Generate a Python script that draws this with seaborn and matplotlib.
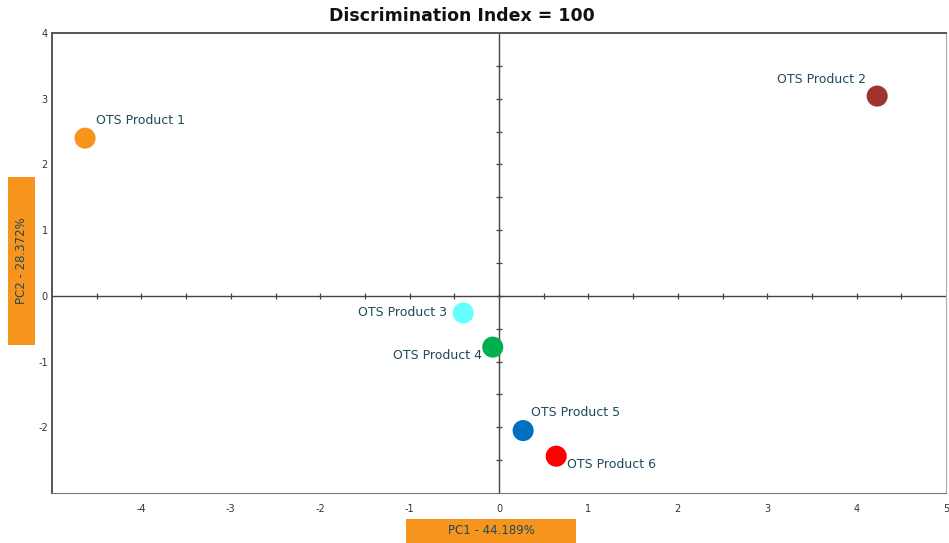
import numpy as np
import pandas as pd
import matplotlib.pyplot as plt
from matplotlib.patches import Rectangle
import seaborn as sns

# PCA scores
products = ['OTS Product 1', 'OTS Product 2', 'OTS Product 3',
            'OTS Product 4', 'OTS Product 5', 'OTS Product 6']
pc1 = [-4.63, 4.23, -0.40, -0.07, 0.27, 0.64]
pc2 = [2.40, 3.04, -0.26, -0.78, -2.05, -2.44]
colors = ['#F7941D', '#9E3330', '#66FFFF', '#00B050', '#0070C0', '#FF0000']

x_label = 'PC1 - 44.189%'
y_label = 'PC2 - 28.372%'
title = 'Discrimination Index = 100'

df = pd.DataFrame({'product': products, 'pc1': pc1, 'pc2': pc2})

sns.set_style('white')
plt.rcParams['font.family'] = ['DejaVu Sans']

fig = plt.figure(figsize=(9.49, 5.43), dpi=100)
W, H = 949, 543
ax = fig.add_axes([52 / W, 1 - 493 / H, (946 - 52) / W, (493 - 33) / H])

ax.set_xlim(-5, 5)
ax.set_ylim(-3, 4)

# zero lines with small ticks every 0.5
ax.axhline(0, color='#444444', lw=1, zorder=1)
ax.axvline(0, color='#444444', lw=1, zorder=1)
steps_x = np.arange(-4.5, 5.0, 0.5)
steps_y = np.arange(-2.5, 4.0, 0.5)
ax.plot(steps_x, np.zeros_like(steps_x), ls='none', marker='|', ms=5,
        mew=0.9, color='#444444', zorder=1)
ax.plot(np.zeros_like(steps_y), steps_y, ls='none', marker='_', ms=5,
        mew=0.9, color='#444444', zorder=1)

sns.scatterplot(data=df, x='pc1', y='pc2', hue='product', palette=colors,
                s=230, edgecolor='none', legend=False, ax=ax, zorder=3)

# label offsets (points) and alignment per product
offsets = [(8, 8, 'left', 'bottom'), (-8, 7, 'right', 'bottom'),
           (-12, 0, 'right', 'center'), (-8, -6, 'right', 'center'),
           (6, 8, 'left', 'bottom'), (8, -6, 'left', 'center')]
for name, x, y, (dx, dy, ha, va) in zip(products, pc1, pc2, offsets):
    ax.annotate(name, (x, y), xytext=(dx, dy), textcoords='offset points',
                ha=ha, va=va, fontsize=9, color='#1E4A5A')

ax.set_xticks(range(-4, 6))
ax.set_yticks(range(-3, 5))
ax.set_xticklabels([str(v) for v in range(-4, 6)])
ax.set_yticklabels(['' if v == -3 else str(v) for v in range(-3, 5)])
ax.tick_params(axis='both', length=0, labelsize=7, colors='#333333', pad=8)
ax.tick_params(axis='y', pad=3)
ax.set_xlabel('')
ax.set_ylabel('')

for side in ['left', 'top']:
    ax.spines[side].set_color('#555555')
    ax.spines[side].set_linewidth(1.4)
ax.spines['bottom'].set_color('#777777')
ax.spines['right'].set_color('#AAAAAA')

# orange axis-title boxes
fig.add_artist(Rectangle((406 / W, 0), 170 / W, 24 / H, transform=fig.transFigure,
                         color='#F7941D', lw=0))
fig.text(491 / W, 12 / H, x_label, ha='center', va='center',
         fontsize=8.5, color='#1E4A5A')
fig.add_artist(Rectangle((8 / W, 1 - 345 / H), 27 / W, 168 / H,
                         transform=fig.transFigure, color='#F7941D', lw=0))
fig.text(21.5 / W, 1 - 261 / H, y_label, ha='center', va='center',
         rotation=90, fontsize=8.5, color='#1E4A5A')

fig.text(462 / W, 1 - 16 / H, title, ha='center', va='center',
         fontsize=12.5, fontweight='bold', color='#111111')

fig.savefig('out.png', dpi=100)
